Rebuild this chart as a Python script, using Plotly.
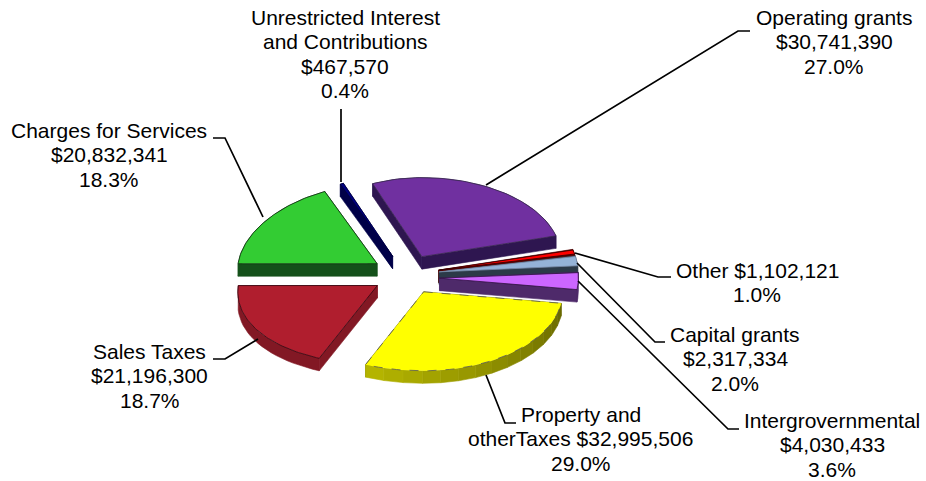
import numpy as np
import plotly.graph_objects as go

# Revenue sources, in clockwise drawing order from the first slice angle
categories = ["Operating grants", "Other", "Capital grants", "Intergrovernmental",
              "Property and otherTaxes", "Sales Taxes", "Charges for Services",
              "Unrestricted Interest and Contributions"]
amounts = [30741390, 1102121, 2317334, 4030433, 32995506, 21196300, 20832341, 467570]
percent_labels = ["27.0%", "1.0%", "2.0%", "3.6%", "29.0%", "18.7%", "18.3%", "0.4%"]
label_names = [["Operating grants"], ["Other"], ["Capital grants"], ["Intergrovernmental"],
               ["Property and", "otherTaxes"], ["Sales Taxes"], ["Charges for Services"],
               ["Unrestricted Interest", "and Contributions"]]
# Whether the dollar figure shares a line with the last line of the name
inline_amount = [False, True, False, False, True, False, False, False]

top_colors = ["#7030A0", "#FF0000", "#95B3D7", "#CC66FF", "#FFFF00", "#B01E2E", "#33CC33", "#000080"]
side_start = ["#2E1650", "#5A0000", "#2C3A48", "#4E2A6A", "#6A6A00", "#821824", "#14501A", "#000048"]
side_end = ["#2E1650", "#5A0000", "#2C3A48", "#4E2A6A", "#B4B400", "#821824", "#14501A", "#000048"]
outline_colors = ["#3A2A50", "#300000", "#7A8CA8", "#301040", "#555555", "#300810", "#103010", "#000040"]
outline_dash = ["solid", "solid", "solid", "solid", "dash", "solid", "solid", "solid"]
explosions = [35, 33, 33, 33, 35, 35, 35, 35]
drops = [0, 0, 0, 3, 0, 0, 0, 0]
paint_order = [7, 0, 6, 1, 2, 3, 5, 4]

# Leader lines and label anchors, in page pixels
leader_x = [[486, 738, 750], [575, 658, 671], [577, 655, 665], [578, 728, 739],
            [486, 505, 516], [258, 225, 213], [263, 225, 213], [341, 341]]
leader_y = [[185, 31, 31], [253, 277, 277], [263, 342, 342], [281, 429, 429],
            [375, 423, 423], [339, 359, 359], [217, 138, 138], [182, 109]]
label_x = [834, 757, 735, 832, 580.5, 149.5, 109, 345]
label_first_y = [17, 270, 334, 420, 414, 351, 130, 17]
LINE_STEP = 24.5

FIRST_ANGLE = 337.4
CX, CY = 406.5, 274.5
RX, RY = 139.0, 79.0
TILT = RY / RX
DEPTH = 12.5
LEFT_SKEW = 0.085


def rim(x0, y0, a0, a1, n=60):
    t = np.radians(np.linspace(a0, a1, n))
    s, c = np.sin(t), np.cos(t)
    # The left half narrows towards the back and widens towards the front
    return x0 + RX * s * (1 - LEFT_SKEW * c * (s < 0)), y0 - RY * c


def mix(c0, c1, f):
    a = [int(c0[i:i + 2], 16) for i in (1, 3, 5)]
    b = [int(c1[i:i + 2], 16) for i in (1, 3, 5)]
    return "#" + "".join(f"{round(p + (q - p) * f):02X}" for p, q in zip(a, b))


def poly(fig, xs, ys, fill, line=None, width=0.0, dash="solid"):
    fig.add_trace(go.Scatter(
        x=list(xs), y=list(ys), mode="lines", fill="toself", fillcolor=fill,
        line=dict(color=line or fill, width=width if line else 0.6, dash=dash),
        hoverinfo="skip", showlegend=False))


fractions = np.array(amounts, dtype=float) / sum(amounts)
edges = FIRST_ANGLE + np.concatenate([[0], np.cumsum(fractions)]) * 360.0

fig = go.Figure()

for i in paint_order:
    a0, a1 = edges[i], edges[i + 1]
    mid = np.radians((a0 + a1) / 2)
    ax = CX + explosions[i] * np.sin(mid)
    ay = CY - explosions[i] * TILT * np.cos(mid) + drops[i]
    rx, ry = rim(ax, ay, a0, a1)

    # Straight side walls running out from the slice's tip
    for ex, ey in ((rx[0], ry[0]), (rx[-1], ry[-1])):
        poly(fig, [ax, ex, ex, ax, ax], [ay, ey, ey + DEPTH, ay + DEPTH, ay], side_start[i])

    # Curved outer wall, shaded in short steps along the rim
    steps = 14 if side_start[i] != side_end[i] else 1
    cuts = np.linspace(a0, a1, steps + 1)
    for s in range(steps):
        sx, sy = rim(ax, ay, cuts[s], cuts[s + 1], n=24 if steps == 1 else 10)
        poly(fig, np.r_[sx, sx[::-1], sx[0]], np.r_[sy, sy[::-1] + DEPTH, sy[0]],
             mix(side_start[i], side_end[i], s / max(steps - 1, 1)))

    # Top face
    poly(fig, np.r_[ax, rx, ax], np.r_[ay, ry, ay], top_colors[i],
         line=outline_colors[i], width=0.8, dash=outline_dash[i])

for i in range(len(categories)):
    fig.add_trace(go.Scatter(x=leader_x[i], y=leader_y[i], mode="lines",
                             line=dict(color="black", width=1.7),
                             hoverinfo="skip", showlegend=False))
    money = f"${amounts[i]:,}"
    lines = list(label_names[i])
    if inline_amount[i]:
        lines[-1] = f"{lines[-1]} {money}"
    else:
        lines.append(money)
    lines.append(percent_labels[i])
    for k, text in enumerate(lines):
        fig.add_annotation(x=label_x[i], y=label_first_y[i] + k * LINE_STEP, text=text,
                           showarrow=False, xanchor="center", yanchor="middle",
                           font=dict(family="Liberation Sans, Arial, sans-serif", size=21, color="black"))

fig.update_layout(
    width=926, height=481, margin=dict(l=0, r=0, t=0, b=0),
    paper_bgcolor="white", plot_bgcolor="white", showlegend=False,
    xaxis=dict(range=[0, 926], visible=False, fixedrange=True),
    yaxis=dict(range=[481, 0], visible=False, fixedrange=True),
)

fig.write_html("out.html", config=dict(displayModeBar=False))
